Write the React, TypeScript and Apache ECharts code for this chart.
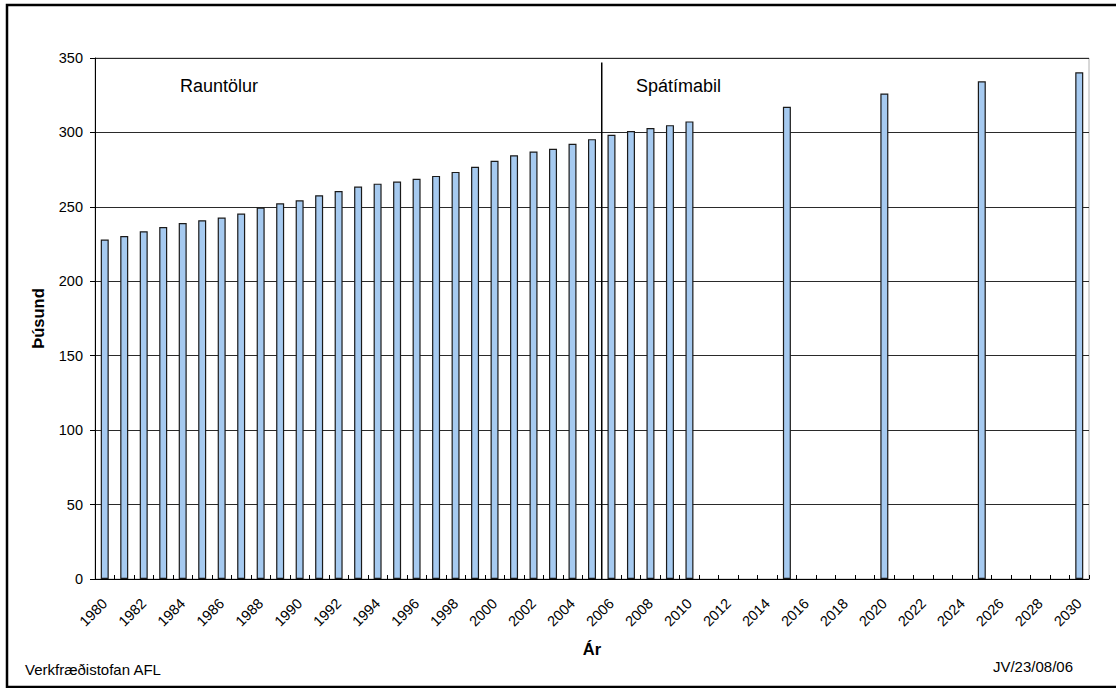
import React, { useEffect, useRef } from "react";
import * as echarts from "echarts";

const categories: string[] = [
  "1980", "1981", "1982", "1983", "1984", "1985", "1986", "1987", "1988", "1989",
  "1990", "1991", "1992", "1993", "1994", "1995", "1996", "1997", "1998", "1999",
  "2000", "2001", "2002", "2003", "2004", "2005", "2006", "2007", "2008", "2009",
  "2010", "2011", "2012", "2013", "2014", "2015", "2016", "2017", "2018", "2019",
  "2020", "2021", "2022", "2023", "2024", "2025", "2026", "2027", "2028", "2029",
  "2030",
];

// Þúsund (thousands); null = no bar for that year
const values: (number | null)[] = [
  228.0, 230.4, 233.6, 236.5, 239.2, 241.0, 242.8, 245.5, 249.5, 252.4,
  254.4, 257.8, 260.7, 263.6, 265.6, 267.0, 268.8, 270.8, 273.5, 276.9,
  280.9, 284.7, 287.2, 289.0, 292.4, 295.5, 298.4, 300.9, 302.9, 304.9,
  307.4, null, null, null, null, 317.2, null, null, null, null,
  326.2, null, null, null, null, 334.3, null, null, null, null,
  340.4,
];

// boundary between measured values and forecast period (between 2005 and 2006)
const dividerX = [2005.5, 2005.5];
const dividerY = [0, 347];

const yTicks = { min: 0, max: 350, interval: 50 };

const FONT = 'Arial, "Liberation Sans", sans-serif';

export default function App() {
  const ref = useRef<HTMLDivElement>(null);

  useEffect(() => {
    document.body.style.margin = "0";
    if (!ref.current) return;
    const chart = echarts.init(ref.current, null, { renderer: "svg" });
    chart.setOption({
      animation: false,
      backgroundColor: "#fff",
      textStyle: { fontFamily: FONT },
      grid: {
        left: 95,
        top: 58,
        right: 27,
        bottom: 109,
        show: true,
        borderColor: "#b0b0b0",
        borderWidth: 1,
      },
      xAxis: [
        {
          type: "category",
          data: categories,
          boundaryGap: true,
          name: "Ár",
          nameLocation: "middle",
          nameGap: 61,
          nameTextStyle: { fontFamily: FONT, fontSize: 16.5, fontWeight: "bold", color: "#000" },
          axisLine: { show: true, lineStyle: { color: "#000", width: 1 } },
          axisTick: { show: true, inside: true, length: 4, interval: 0, lineStyle: { color: "#000" } },
          axisLabel: {
            interval: 1,
            rotate: 45,
            margin: 22,
            fontFamily: FONT,
            fontSize: 14.5,
            color: "#000",
          },
          splitLine: { show: false },
        },
        {
          type: "value",
          min: 1979.5,
          max: 2030.5,
          show: false,
          splitLine: { show: false },
        },
      ],
      yAxis: {
        type: "value",
        min: yTicks.min,
        max: yTicks.max,
        interval: yTicks.interval,
        name: "Þúsund",
        nameLocation: "middle",
        nameGap: 49,
        nameRotate: 90,
        nameTextStyle: { fontFamily: FONT, fontSize: 16.5, fontWeight: "bold", color: "#000" },
        axisLine: { show: true, lineStyle: { color: "#000", width: 1 } },
        axisTick: { show: true, length: 5, lineStyle: { color: "#000" } },
        axisLabel: { margin: 12, fontFamily: FONT, fontSize: 14.5, color: "#000" },
        splitLine: { show: true, lineStyle: { color: "#2a2a2a", width: 1 } },
      },
      series: [
        {
          type: "bar",
          data: values,
          barWidth: 8,
          itemStyle: { color: "#a6caf0", borderColor: "#1a1a1a", borderWidth: 1.2 },
        },
        {
          type: "line",
          xAxisIndex: 1,
          data: dividerX.map((x, i) => [x, dividerY[i]]),
          symbol: "none",
          lineStyle: { color: "#000", width: 1.5 },
          z: 5,
        },
      ],
      graphic: [
        {
          type: "rect",
          shape: { x: 7, y: 5, width: 1115, height: 682 },
          style: { fill: "none", stroke: "#000", lineWidth: 2.5 },
          silent: true,
        },
        {
          type: "text",
          x: 180,
          y: 86,
          style: { text: "Rauntölur", font: `18px ${FONT}`, fill: "#000", verticalAlign: "middle" },
        },
        {
          type: "text",
          x: 636,
          y: 86,
          style: { text: "Spátímabil", font: `18px ${FONT}`, fill: "#000", verticalAlign: "middle" },
        },
        {
          type: "text",
          x: 25,
          y: 669,
          style: { text: "Verkfræðistofan AFL", font: `15px ${FONT}`, fill: "#000", verticalAlign: "middle" },
        },
        {
          type: "text",
          x: 1073,
          y: 666.5,
          style: { text: "JV/23/08/06", font: `15px ${FONT}`, fill: "#000", align: "right", verticalAlign: "middle" },
        },
      ],
    });
    return () => chart.dispose();
  }, []);

  return <div ref={ref} style={{ width: 1116, height: 688 }} />;
}
